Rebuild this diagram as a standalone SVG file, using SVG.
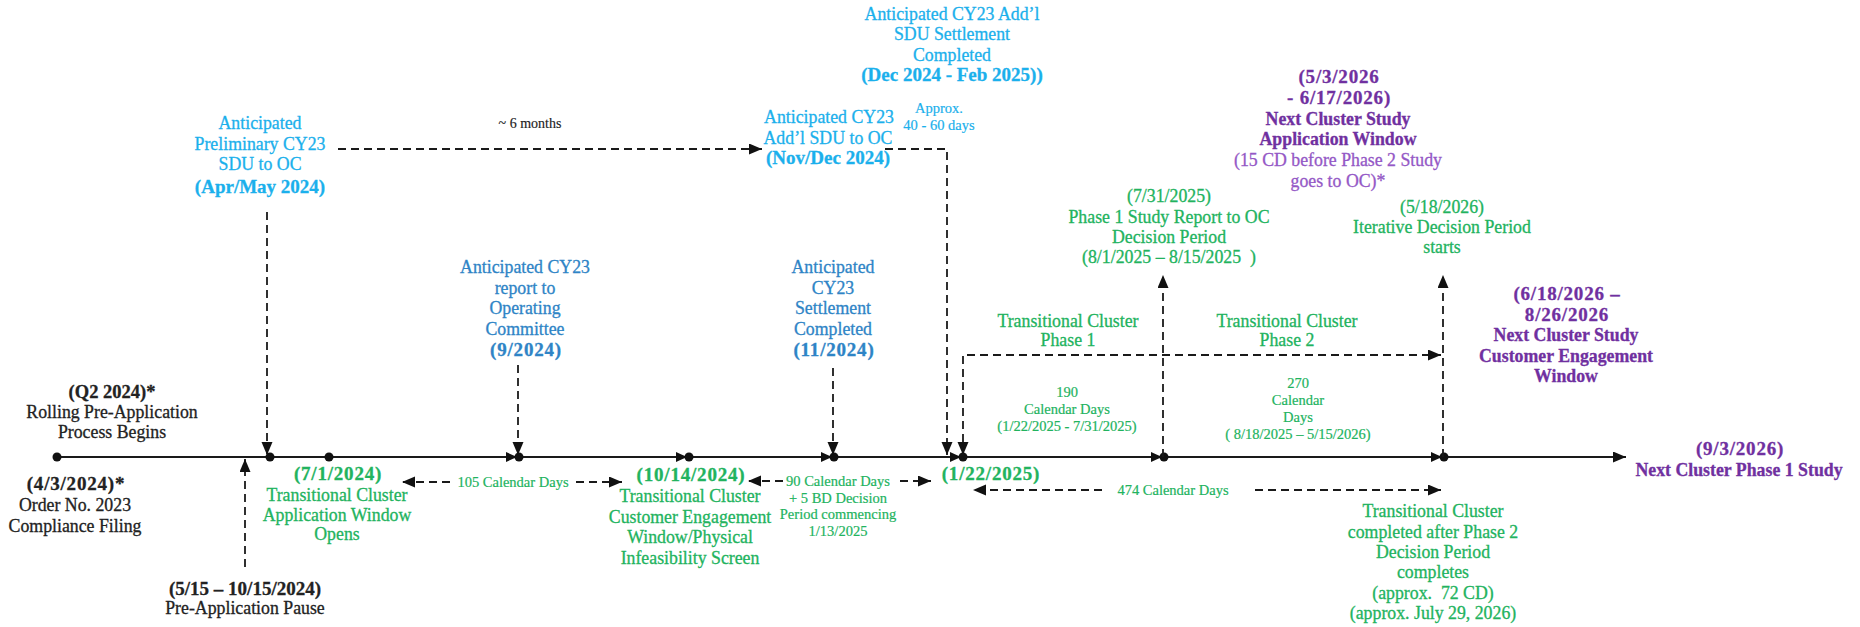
<svg xmlns="http://www.w3.org/2000/svg" xmlns:xlink="http://www.w3.org/1999/xlink" width="1860" height="627" viewBox="0 0 1860 627">
<style>
text{font-family:"Liberation Serif","DejaVu Serif",serif;font-size:17.8px;text-anchor:middle;stroke-width:0.3px}
.b{font-weight:bold;stroke:none}
.dt{font-weight:bold;font-size:19px;letter-spacing:0.8px;stroke:none}
.bd{font-weight:bold;font-size:19px;stroke:none}
.s{font-size:14.5px;stroke-width:0.2px}
.k{fill:#222;stroke:#222}
.lb{fill:#1BB0EC;stroke:#1BB0EC}
.db{fill:#2E84C6;stroke:#2E84C6}
.g{fill:#22B35E;stroke:#22B35E}
.p{fill:#7030A0;stroke:#7030A0}
.pl{fill:#9458C6;stroke:#9458C6}
.pre{white-space:pre}
.d{stroke:#1a1a1a;stroke-width:1.8;stroke-dasharray:8 5;fill:none}
.main{stroke:#1a1a1a;stroke-width:2;fill:none}
.dot{fill:#111}
</style>
<defs>
<marker id="ah" markerUnits="userSpaceOnUse" markerWidth="14" markerHeight="12" refX="13" refY="5.5" orient="auto-start-reverse" viewBox="0 0 14 12">
<path d="M0,0 L13,5.5 L0,11 z" fill="#111"/>
</marker>
<path id="ra" d="M-12,-5 L-1,0 L-12,5 z" fill="#111"/>
</defs>
<rect width="1860" height="627" fill="#fff"/>

<g id="connectors">
<line class="main" x1="57" y1="457" x2="1626" y2="457" marker-end="url(#ah)"/>
<use xlink:href="#ra" x="518" y="457"/>
<use xlink:href="#ra" x="688" y="457"/>
<use xlink:href="#ra" x="833" y="457"/>
<use xlink:href="#ra" x="962" y="457"/>
<use xlink:href="#ra" x="1163" y="457"/>
<use xlink:href="#ra" x="1443" y="457"/>
<circle class="dot" cx="57" cy="457" r="4.5"/>
<circle class="dot" cx="270" cy="457" r="4.5"/>
<circle class="dot" cx="329" cy="457" r="4.5"/>
<circle class="dot" cx="519" cy="457" r="4.5"/>
<circle class="dot" cx="689" cy="457" r="4.5"/>
<circle class="dot" cx="834" cy="457" r="4.5"/>
<circle class="dot" cx="963" cy="457" r="4.5"/>
<circle class="dot" cx="1164" cy="457" r="4.5"/>
<circle class="dot" cx="1444" cy="457" r="4.5"/>
<line class="d" x1="267" y1="212" x2="267" y2="455" marker-end="url(#ah)"/>
<line class="d" x1="245" y1="567" x2="245" y2="459" marker-end="url(#ah)"/>
<line class="d" x1="518" y1="365" x2="518" y2="455" marker-end="url(#ah)"/>
<line class="d" x1="833" y1="368" x2="833" y2="455" marker-end="url(#ah)"/>
<polyline class="d" points="885,149 947,149 947,455" marker-end="url(#ah)"/>
<line class="d" x1="338" y1="149" x2="762" y2="149" marker-end="url(#ah)"/>
<polyline class="d" points="963,455 963,355 1441,355" marker-start="url(#ah)" marker-end="url(#ah)"/>
<line class="d" x1="1163" y1="457" x2="1163" y2="275" marker-end="url(#ah)"/>
<line class="d" x1="1443" y1="457" x2="1443" y2="275" marker-end="url(#ah)"/>
<line class="d" x1="450" y1="482" x2="402" y2="482" marker-end="url(#ah)"/>
<line class="d" x1="576" y1="482" x2="622" y2="482" marker-end="url(#ah)"/>
<line class="d" x1="783" y1="481" x2="748" y2="481" marker-end="url(#ah)"/>
<line class="d" x1="900" y1="481" x2="931" y2="481" marker-end="url(#ah)"/>
<line class="d" x1="1102" y1="490" x2="973" y2="490" marker-end="url(#ah)"/>
<line class="d" x1="1255" y1="490" x2="1441" y2="490" marker-end="url(#ah)"/>
</g>

<g id="n-q2">
<text class="k b" style="font-size:18.5px" x="112" y="398">(Q2 2024)*</text>
<text class="k" x="112" y="418">Rolling Pre-Application</text>
<text class="k" x="112" y="438">Process Begins</text>
</g>
<g id="n-order">
<text class="k dt" x="76" y="490">(4/3/2024)*</text>
<text class="k" x="75" y="511">Order No. 2023</text>
<text class="k" x="75" y="532">Compliance Filing</text>
</g>
<g id="n-pause">
<text class="k bd" x="245" y="595">(5/15 – 10/15/2024)</text>
<text class="k" x="245" y="614">Pre-Application Pause</text>
</g>
<g id="n-prelim">
<text class="lb" x="260" y="129">Anticipated</text>
<text class="lb" x="260" y="149.5">Preliminary CY23</text>
<text class="lb" x="260" y="170">SDU to OC</text>
<text class="lb bd" x="260" y="193">(Apr/May 2024)</text>
</g>
<g id="l-6months">
<text class="k" style="font-size:14px;stroke-width:0.15px" x="530" y="128">~ 6 months</text>
</g>
<g id="n-addl-sdu">
<text class="lb" x="829" y="123">Anticipated CY23</text>
<text class="lb" x="828" y="143.5">Add’l SDU to OC</text>
<text class="lb bd" x="828" y="164">(Nov/Dec 2024)</text>
</g>
<g id="l-approx">
<text class="lb s" x="939" y="113">Approx.</text>
<text class="lb s" x="939" y="130">40 - 60 days</text>
</g>
<g id="n-addl-settle">
<text class="lb" x="952" y="19.5">Anticipated CY23 Add’l</text>
<text class="lb" x="952" y="40">SDU Settlement</text>
<text class="lb" x="952" y="60.5">Completed</text>
<text class="lb bd" x="952" y="81">(Dec 2024 - Feb 2025))</text>
</g>
<g id="n-report-oc">
<text class="db" x="525" y="273">Anticipated CY23</text>
<text class="db" x="525" y="293.5">report to</text>
<text class="db" x="525" y="314">Operating</text>
<text class="db" x="525" y="334.5">Committee</text>
<text class="db dt" x="526" y="356">(9/2024)</text>
</g>
<g id="n-settle">
<text class="db" x="833" y="273">Anticipated</text>
<text class="db" x="833" y="293.5">CY23</text>
<text class="db" x="833" y="314">Settlement</text>
<text class="db" x="833" y="334.5">Completed</text>
<text class="db dt" x="834" y="356">(11/2024)</text>
</g>
<g id="n-appwin">
<text class="g dt" x="338" y="480">(7/1/2024)</text>
<text class="g" x="337" y="501">Transitional Cluster</text>
<text class="g" x="337" y="520.5">Application Window</text>
<text class="g" x="337" y="540">Opens</text>
</g>
<g id="l-105">
<text class="g s" x="513" y="487">105 Calendar Days</text>
</g>
<g id="n-custeng">
<text class="g dt" x="691" y="481">(10/14/2024)</text>
<text class="g" x="690" y="502">Transitional Cluster</text>
<text class="g" x="690" y="522.5">Customer Engagement</text>
<text class="g" x="690" y="543">Window/Physical</text>
<text class="g" x="690" y="563.5">Infeasibility Screen</text>
</g>
<g id="l-90">
<text class="g s" x="838" y="486">90 Calendar Days</text>
<text class="g s" x="838" y="502.5">+ 5 BD Decision</text>
<text class="g s" x="838" y="519">Period commencing</text>
<text class="g s" x="838" y="535.5">1/13/2025</text>
</g>
<g id="n-0122">
<text class="g dt" x="991" y="480">(1/22/2025)</text>
</g>
<g id="l-474">
<text class="g s" x="1173" y="495">474 Calendar Days</text>
</g>
<g id="l-phase1">
<text class="g" x="1068" y="327">Transitional Cluster</text>
<text class="g" x="1068" y="346">Phase 1</text>
</g>
<g id="l-190">
<text class="g s" x="1067" y="397">190</text>
<text class="g s" x="1067" y="414">Calendar Days</text>
<text class="g s" x="1067" y="431">(1/22/2025 - 7/31/2025)</text>
</g>
<g id="n-phase1-report">
<text class="g" x="1169" y="202">(7/31/2025)</text>
<text class="g" x="1169" y="223">Phase 1 Study Report to OC</text>
<text class="g" x="1169" y="243">Decision Period</text>
<text class="g pre" x="1169" y="263" xml:space="preserve">(8/1/2025 – 8/15/2025  )</text>
</g>
<g id="l-phase2">
<text class="g" x="1287" y="327">Transitional Cluster</text>
<text class="g" x="1287" y="346">Phase 2</text>
</g>
<g id="l-270">
<text class="g s" x="1298" y="388">270</text>
<text class="g s" x="1298" y="405">Calendar</text>
<text class="g s" x="1298" y="422">Days</text>
<text class="g s" x="1298" y="439">( 8/18/2025 – 5/15/2026)</text>
</g>
<g id="n-iterative">
<text class="g" x="1442" y="213">(5/18/2026)</text>
<text class="g" x="1442" y="233">Iterative Decision Period</text>
<text class="g" x="1442" y="253">starts</text>
</g>
<g id="n-next-app">
<text class="p dt" x="1339" y="83">(5/3/2026</text>
<text class="p dt" x="1339" y="104">- 6/17/2026)</text>
<text class="p b" x="1338" y="125">Next Cluster Study</text>
<text class="p b" x="1338" y="145">Application Window</text>
<text class="pl" x="1338" y="166">(15 CD before Phase 2 Study</text>
<text class="pl" x="1338" y="187">goes to OC)*</text>
</g>
<g id="n-next-eng">
<text class="p dt" x="1567" y="300">(6/18/2026 –</text>
<text class="p dt" x="1567" y="321">8/26/2026</text>
<text class="p b" x="1566" y="341">Next Cluster Study</text>
<text class="p b" x="1566" y="362">Customer Engagement</text>
<text class="p b" x="1566" y="382">Window</text>
</g>
<g id="n-next-phase1">
<text class="p dt" x="1740" y="455">(9/3/2026)</text>
<text class="p b" x="1739" y="476">Next Cluster Phase 1 Study</text>
</g>
<g id="n-complete">
<text class="g" x="1433" y="517">Transitional Cluster</text>
<text class="g" x="1433" y="537.5">completed after Phase 2</text>
<text class="g" x="1433" y="558">Decision Period</text>
<text class="g" x="1433" y="578">completes</text>
<text class="g pre" x="1433" y="599" xml:space="preserve">(approx.  72 CD)</text>
<text class="g" x="1433" y="619">(approx. July 29, 2026)</text>
</g>
</svg>
